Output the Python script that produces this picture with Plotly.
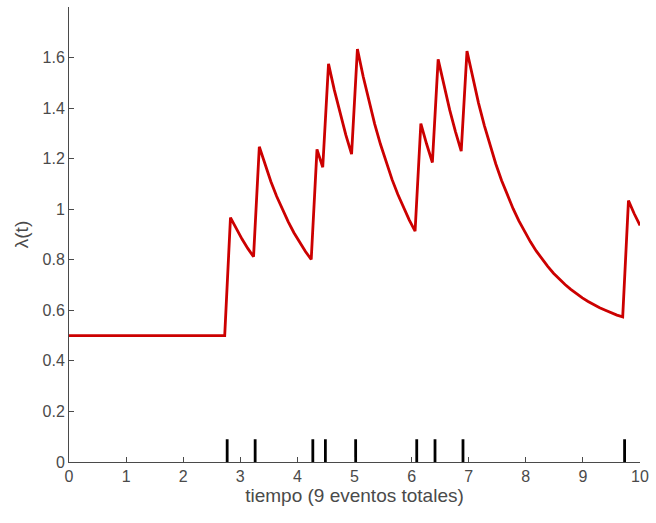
import plotly.graph_objects as go

# Time samples (grid)
t = [0.0, 2.727, 2.828, 2.929, 3.030, 3.131, 3.232, 3.333, 3.434, 3.535, 3.636,
     3.737, 3.838, 3.939, 4.040, 4.141, 4.242, 4.343, 4.444, 4.545, 4.646,
     4.747, 4.848, 4.949, 5.051, 5.152, 5.253, 5.354, 5.455, 5.556, 5.657,
     5.758, 5.859, 5.960, 6.061, 6.162, 6.263, 6.364, 6.465, 6.566, 6.667,
     6.768, 6.869, 6.970, 7.071, 7.172, 7.273, 7.374, 7.475, 7.576, 7.677,
     7.778, 7.879, 7.980, 8.081, 8.182, 8.283, 8.384, 8.485, 8.586, 8.687,
     8.788, 8.889, 8.990, 9.091, 9.192, 9.293, 9.394, 9.495, 9.596, 9.697,
     9.798, 9.899, 10.0]

# Intensity lambda(t)
lam = [0.5, 0.5, 0.967, 0.922, 0.882, 0.845, 0.812, 1.247, 1.175, 1.110, 1.051,
       0.998, 0.951, 0.907, 0.868, 0.833, 0.801, 1.237, 1.166, 1.575, 1.472,
       1.378, 1.294, 1.218, 1.634, 1.525, 1.426, 1.337, 1.257, 1.184, 1.118,
       1.059, 1.005, 0.957, 0.913, 1.339, 1.258, 1.185, 1.593, 1.488, 1.393,
       1.307, 1.230, 1.626, 1.518, 1.420, 1.332, 1.252, 1.179, 1.114, 1.055,
       1.002, 0.954, 0.910, 0.871, 0.835, 0.803, 0.774, 0.747, 0.724, 0.702,
       0.683, 0.665, 0.649, 0.635, 0.622, 0.610, 0.600, 0.590, 0.581, 0.574,
       1.034, 0.982, 0.936]

# Event times
events = [2.77, 3.26, 4.27, 4.49, 5.02, 6.09, 6.41, 6.90, 9.73]
event_mark_height = 0.09

x_ticks = list(range(0, 11))
y_ticks = [0, 0.2, 0.4, 0.6, 0.8, 1.0, 1.2, 1.4, 1.6]
y_tick_text = ["0", "0.2", "0.4", "0.6", "0.8", "1", "1.2", "1.4", "1.6"]

ex, ey = [], []
for e in events:
    ex += [e, e, None]
    ey += [0, event_mark_height, None]

fig = go.Figure()
fig.add_trace(go.Scatter(x=ex, y=ey, mode="lines",
                         line=dict(color="black", width=2.8),
                         hoverinfo="skip", showlegend=False))
fig.add_trace(go.Scatter(x=t, y=lam, mode="lines",
                         line=dict(color="#CC0000", width=2.8),
                         showlegend=False))

axis_col = "#4a4a4a"
font_family = "Liberation Sans, Arial, sans-serif"
fig.update_layout(
    width=656, height=523,
    margin=dict(l=69, r=11, t=7, b=61),
    paper_bgcolor="white", plot_bgcolor="white",
    font=dict(family=font_family, size=16, color=axis_col),
    xaxis=dict(range=[0, 10], tickvals=x_ticks, ticks="inside", ticklen=5,
               tickcolor=axis_col, showline=True, linecolor=axis_col, linewidth=1,
               showgrid=False, zeroline=False, mirror=False,
               title=dict(text="tiempo (9 eventos totales)", font=dict(size=19, color=axis_col),
                          standoff=2),
               tickfont=dict(size=16, color=axis_col)),
    yaxis=dict(range=[0, 1.8], tickvals=y_ticks, ticktext=y_tick_text,
               ticks="inside", ticklen=5, tickcolor=axis_col, showline=True,
               linecolor=axis_col, linewidth=1, showgrid=False, zeroline=False,
               title=dict(text="λ(t)", font=dict(size=19, color=axis_col), standoff=8),
               tickfont=dict(size=16, color=axis_col)),
)

fig.write_html("out.html", config={"displayModeBar": False},
               post_script="document.body.style.margin='0';document.body.style.overflow='hidden';")
